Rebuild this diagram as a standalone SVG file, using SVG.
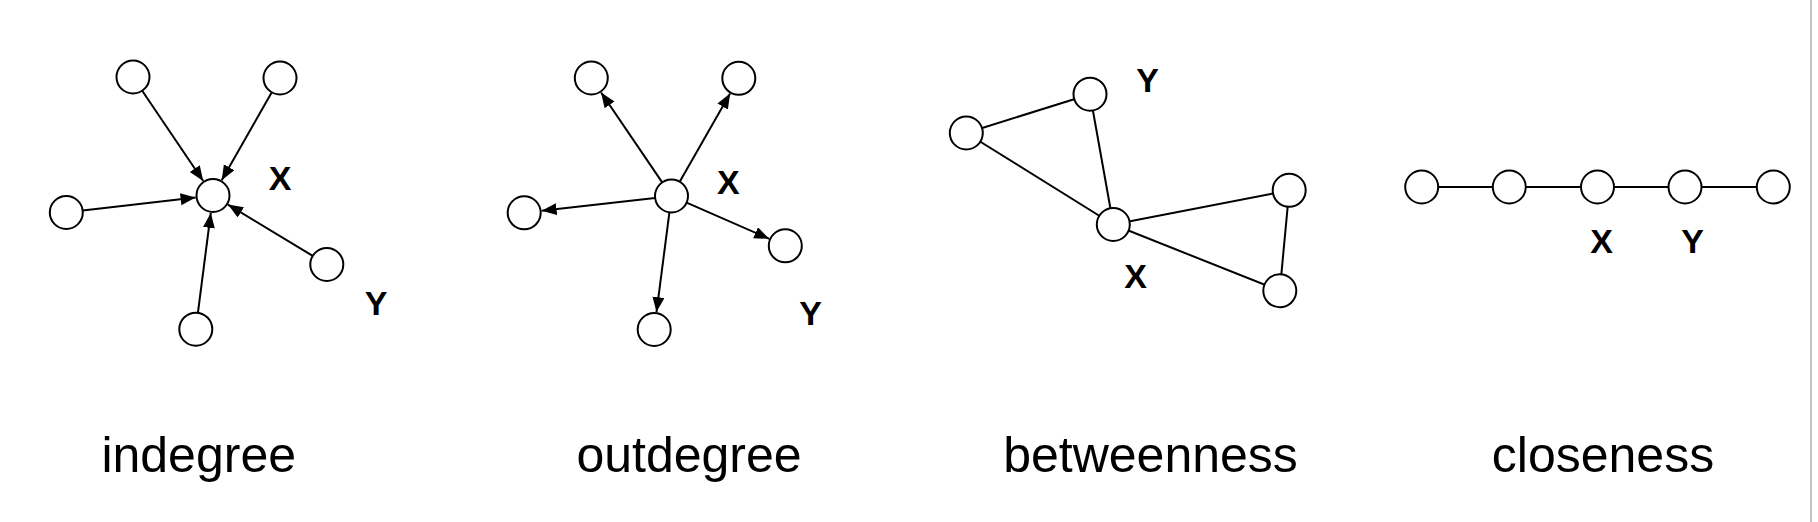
<svg xmlns="http://www.w3.org/2000/svg" width="1818" height="522" viewBox="0 0 1818 522">
<defs>
<style>
.n{fill:#fff;stroke:#000;stroke-width:2}
.e{stroke:#000;stroke-width:2;fill:none}
.a{stroke:#000;stroke-width:2;fill:none;marker-end:url(#arr)}
.lb{font-family:"Liberation Sans",Arial,sans-serif;font-weight:bold;font-size:34px;fill:#000;text-anchor:middle}
.cap{font-family:"Liberation Sans",Arial,sans-serif;font-size:50px;fill:#000;text-anchor:middle}
</style>
<marker id="arr" markerUnits="userSpaceOnUse" markerWidth="17" markerHeight="13" refX="15" refY="6" orient="auto">
<path d="M0,0 L15,6 L0,12 z" fill="#000"/>
</marker>
</defs>
<rect width="1818" height="522" fill="#fff"/>
<line x1="1811" y1="0" x2="1811" y2="522" stroke="#b0b0b0" stroke-width="1.5"/>

<g id="connectors">
<!-- indegree -->
<line class="a" x1="142.2" y1="90.7" x2="203.2" y2="181.0"/>
<line class="a" x1="271.8" y1="92.3" x2="221.7" y2="180.3"/>
<line class="a" x1="82.7" y1="210.6" x2="195.6" y2="197.5"/>
<line class="a" x1="312.7" y1="255.9" x2="228.0" y2="204.6"/>
<line class="a" x1="197.9" y1="312.8" x2="210.8" y2="212.9"/>
<!-- outdegree -->
<line class="a" x1="662.2" y1="182.4" x2="601.1" y2="92.5"/>
<line class="a" x1="679.7" y1="181.7" x2="730.1" y2="93.5"/>
<line class="a" x1="655.1" y1="197.9" x2="541.6" y2="210.8"/>
<line class="a" x1="686.6" y1="202.6" x2="769.3" y2="238.8"/>
<line class="a" x1="669.4" y1="212.4" x2="656.5" y2="312.1"/>
<!-- betweenness -->
<line class="e" x1="966.3" y1="133" x2="1090" y2="94.2"/>
<line class="e" x1="966.3" y1="133" x2="1113.3" y2="224.5"/>
<line class="e" x1="1090" y1="94.2" x2="1113.3" y2="224.5"/>
<line class="e" x1="1113.3" y1="224.5" x2="1289.2" y2="190.3"/>
<line class="e" x1="1113.3" y1="224.5" x2="1279.8" y2="290.8"/>
<line class="e" x1="1289.2" y1="190.3" x2="1279.8" y2="290.8"/>
<!-- closeness -->
<line class="e" x1="1421.7" y1="187" x2="1773.3" y2="187"/>
</g>

<g id="indegree">
<g id="in-x"><circle class="n" cx="213" cy="195.5" r="16.5"/></g>
<g id="in-a"><circle class="n" cx="133" cy="77" r="16.5"/></g>
<g id="in-b"><circle class="n" cx="280" cy="78" r="16.5"/></g>
<g id="in-c"><circle class="n" cx="66.3" cy="212.5" r="16.5"/></g>
<g id="in-y"><circle class="n" cx="326.8" cy="264.5" r="16.5"/></g>
<g id="in-e"><circle class="n" cx="195.8" cy="329.2" r="16.5"/></g>
<text class="lb" x="280" y="190">X</text>
<text class="lb" x="376" y="315">Y</text>
<text class="cap" x="198.7" y="472">indegree</text>
</g>

<g id="outdegree">
<g id="out-x"><circle class="n" cx="671.5" cy="196" r="16.5"/></g>
<g id="out-a"><circle class="n" cx="591.3" cy="78" r="16.5"/></g>
<g id="out-b"><circle class="n" cx="738.8" cy="78.3" r="16.5"/></g>
<g id="out-c"><circle class="n" cx="524.2" cy="212.8" r="16.5"/></g>
<g id="out-y"><circle class="n" cx="785.3" cy="245.8" r="16.5"/></g>
<g id="out-e"><circle class="n" cx="654.2" cy="329.5" r="16.5"/></g>
<text class="lb" x="728.3" y="194">X</text>
<text class="lb" x="810.5" y="325">Y</text>
<text class="cap" x="689" y="472">outdegree</text>
</g>

<g id="betweenness">
<g id="bt-a"><circle class="n" cx="966.3" cy="133" r="16.5"/></g>
<g id="bt-y"><circle class="n" cx="1090" cy="94.2" r="16.5"/></g>
<g id="bt-x"><circle class="n" cx="1113.3" cy="224.5" r="16.5"/></g>
<g id="bt-c"><circle class="n" cx="1289.2" cy="190.3" r="16.5"/></g>
<g id="bt-d"><circle class="n" cx="1279.8" cy="290.8" r="16.5"/></g>
<text class="lb" x="1147.7" y="91.5">Y</text>
<text class="lb" x="1135.5" y="288">X</text>
<text class="cap" x="1150.5" y="472">betweenness</text>
</g>

<g id="closeness">
<g id="cl-1"><circle class="n" cx="1421.7" cy="187" r="16.5"/></g>
<g id="cl-2"><circle class="n" cx="1509.3" cy="187" r="16.5"/></g>
<g id="cl-x"><circle class="n" cx="1597.5" cy="187" r="16.5"/></g>
<g id="cl-y"><circle class="n" cx="1685" cy="187" r="16.5"/></g>
<g id="cl-5"><circle class="n" cx="1773.3" cy="187" r="16.5"/></g>
<text class="lb" x="1601.7" y="253">X</text>
<text class="lb" x="1692.5" y="252.5">Y</text>
<text class="cap" x="1603" y="472">closeness</text>
</g>
</svg>
